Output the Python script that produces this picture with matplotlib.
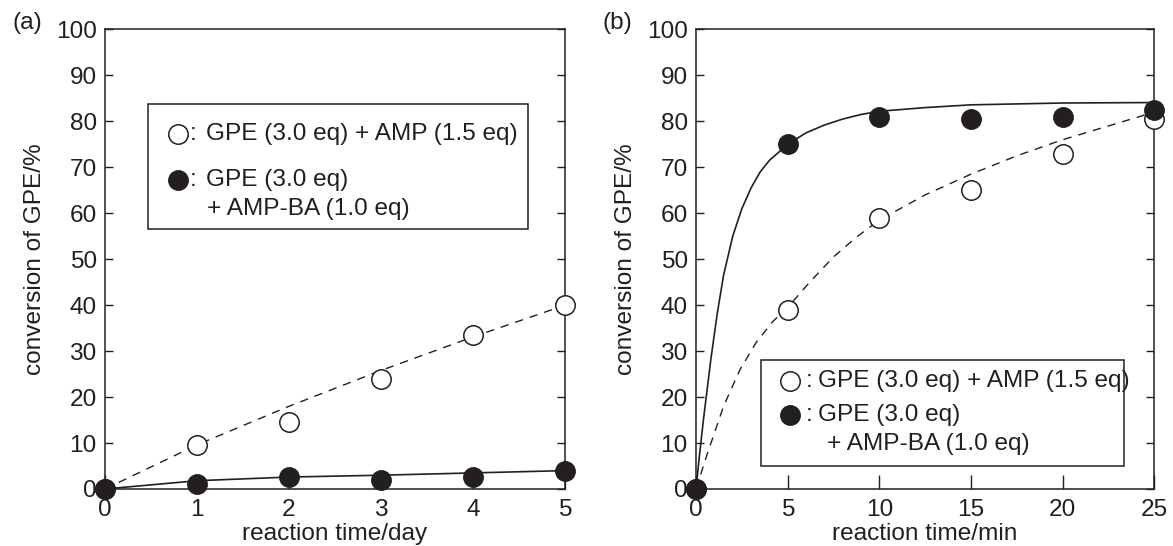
import matplotlib
matplotlib.use("Agg")
import matplotlib.pyplot as plt
from matplotlib.patches import Rectangle

plt.rcParams['font.family'] = ['Liberation Sans', 'DejaVu Sans']

INK = '#231f20'

# ---- (a) reaction time in days ----
days = [0, 1, 2, 3, 4, 5]
amp_day = [0, 9.5, 14.5, 24, 33.5, 40]          # GPE + AMP (open)
ampba_day = [0, 1.0, 2.7, 2.0, 2.7, 4.0]        # GPE + AMP-BA (filled)
fit_t_day = [0, 1, 2, 3, 4, 5]
fit_amp_day = [0, 9.6, 18.0, 25.8, 33.1, 40.0]
fit_ampba_day = [0, 1.8, 2.6, 3.0, 3.5, 4.0]

# ---- (b) reaction time in minutes ----
mins = [0, 5, 10, 15, 20, 25]
amp_min = [0, 39, 59, 65, 73, 80.5]
ampba_min = [0, 75, 81, 80.5, 81, 82.5]
fit_t_amp = [0, 0.6, 1.5, 2.4, 3.3, 4.2, 5.0, 6.2, 7.5, 8.75, 10, 12.5, 15, 17.5, 20, 22.5, 25]
fit_amp_min = [0, 7.5, 18, 26, 32, 36.5, 39.5, 45, 50.5, 54.8, 58.5, 64, 68.5, 72.5, 76, 79, 82]
fit_t_ampba = [0, 0.15, 0.4, 0.8, 1.15, 1.5, 2.0, 2.5, 3.0, 3.5, 4.0, 5.0, 6.0,
               7.0, 8.0, 9.0, 10, 12.5, 15, 20, 25]
fit_ampba_min = [0, 6, 15, 28, 38, 46.5, 55, 61, 65.5, 69, 71.5, 75, 77.5,
                 79.2, 80.5, 81.5, 82.2, 83, 83.6, 84, 84.1]

label_open = 'GPE (3.0 eq) + AMP (1.5 eq)'
label_fill_1 = 'GPE (3.0 eq)'
label_fill_2 = '+ AMP-BA (1.0 eq)'

FS = 17.6
MS = 14

fig = plt.figure(figsize=(11.73, 5.46), dpi=100)
ax_a = fig.add_axes([0.0895, 0.1044, 0.3922, 0.8416])
ax_b = fig.add_axes([0.5934, 0.1044, 0.3905, 0.8416])


def style_axes(ax, xmax, xticks, xlabel):
    ax.set_xlim(0, xmax)
    ax.set_ylim(0, 100)
    ax.set_xticks(xticks)
    ax.set_yticks(range(0, 101, 10))
    for s in ax.spines.values():
        s.set_linewidth(1.1)
        s.set_color(INK)
    ax.tick_params(axis='y', which='both', direction='in', length=6, width=1.0,
                   left=True, right=True, labelsize=FS, pad=6, colors=INK)
    ax.tick_params(axis='x', which='both', direction='in', length=10, width=1.0,
                   top=False, bottom=True, labelsize=FS, pad=7, colors=INK)
    ax.set_ylabel('conversion of GPE/%', fontsize=FS, color=INK, labelpad=7)
    ax.set_xlabel(xlabel, fontsize=FS, color=INK, labelpad=2)


def draw_key(ax, box, m_x, y1, y2, y3, colon_x, text_x, plus_x):
    x0, y0, x1, y1b = box
    ax.add_patch(Rectangle((x0, y0), x1 - x0, y1b - y0, transform=ax.transAxes,
                           fill=True, facecolor='white', edgecolor=INK,
                           linewidth=1.1, zorder=5))
    ax.plot([m_x], [y1], 'o', transform=ax.transAxes, ms=MS, mfc='white',
            mec=INK, mew=1.1, zorder=6, clip_on=False)
    ax.plot([m_x], [y2], 'o', transform=ax.transAxes, ms=MS, mfc=INK,
            mec=INK, zorder=6, clip_on=False)
    ax.text(colon_x, y1, ':', transform=ax.transAxes, fontsize=FS, color=INK,
            ha='center', va='center', zorder=7)
    ax.text(colon_x, y2, ':', transform=ax.transAxes, fontsize=FS, color=INK,
            ha='center', va='center', zorder=7)
    ax.text(text_x, y1, label_open, transform=ax.transAxes, fontsize=FS,
            color=INK, ha='left', va='center', zorder=7)
    ax.text(text_x, y2, label_fill_1, transform=ax.transAxes, fontsize=FS,
            color=INK, ha='left', va='center', zorder=7)
    ax.text(plus_x, y3, label_fill_2, transform=ax.transAxes, fontsize=FS,
            color=INK, ha='left', va='center', zorder=7)


# panel (a)
style_axes(ax_a, 5, days, 'reaction time/day')
ax_a.plot(fit_t_day, fit_amp_day, color=INK, lw=1.0, ls=(0, (6, 5)), zorder=2)
ax_a.plot(fit_t_day, fit_ampba_day, color=INK, lw=1.2, zorder=2)
ax_a.plot(days, amp_day, 'o', ms=MS, mfc='white', mec=INK, mew=1.1,
          zorder=3, clip_on=False)
ax_a.plot(days, ampba_day, 'o', ms=MS, mfc=INK, mec=INK, zorder=4, clip_on=False)
draw_key(ax_a, (0.0935, 0.566, 0.9196, 0.838), 0.159, 0.773, 0.672, 0.609,
         0.191, 0.2196, 0.2217)
fig.text(0.011, 0.957, '(a)', fontsize=FS, color=INK, ha='left', va='center')

# panel (b)
style_axes(ax_b, 25, mins, 'reaction time/min')
ax_b.plot(fit_t_amp, fit_amp_min, color=INK, lw=1.0, ls=(0, (6, 5)), zorder=2)
ax_b.plot(fit_t_ampba, fit_ampba_min, color=INK, lw=1.2, zorder=2)
ax_b.plot(mins, amp_min, 'o', ms=MS, mfc='white', mec=INK, mew=1.1,
          zorder=3, clip_on=False)
ax_b.plot(mins, ampba_min, 'o', ms=MS, mfc=INK, mec=INK, zorder=4, clip_on=False)
draw_key(ax_b, (0.142, 0.050, 0.934, 0.281), 0.205, 0.234, 0.162, 0.098,
         0.247, 0.266, 0.286)
fig.text(0.514, 0.957, '(b)', fontsize=FS, color=INK, ha='left', va='center')

fig.savefig('out.png', dpi=100)
